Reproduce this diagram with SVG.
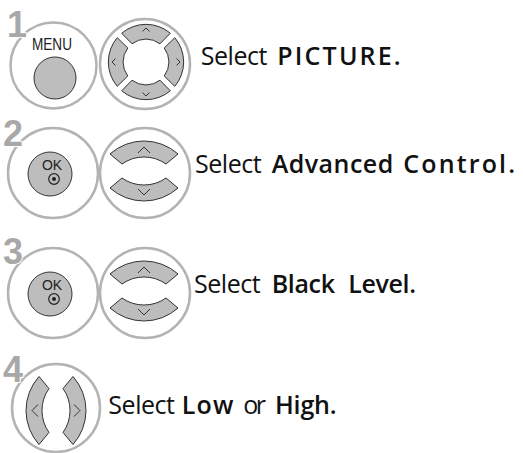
<svg xmlns="http://www.w3.org/2000/svg" width="523" height="453" viewBox="0 0 523 453">
<style>
.ring{fill:#fff;stroke:#b3b3b3;stroke-width:2.5}
.btn{fill:#bdbdbd;stroke:#333;stroke-width:1}
.chev{fill:none;stroke:#333;stroke-width:1}
.num{font-family:"Liberation Sans",Arial,sans-serif;font-weight:bold;font-size:36px;fill:#a8a8a8;stroke:#fff;stroke-width:2;paint-order:stroke}
.lbl{font-family:"Open Sans","DejaVu Sans",sans-serif;font-size:25px;fill:#111}
.b{font-weight:600}
.key{font-family:"Liberation Sans",Arial,sans-serif;fill:#222}
</style>
<defs>
<g id="seg"><path class="btn" d="M-24.3,-28.8 A37.7,37.7 0 0 1 24.3,-28.8 L14,-18.2 A23,23 0 0 0 -14,-18.2 Z"/><polyline class="chev" points="-3.5,-30.5 0,-34 3.5,-30.5"/></g>
<g id="arc"><path class="btn" d="M-34,-17 A51,51 0 0 1 34,-17 L22,-7 A38,38 0 0 0 -22,-7 Z"/><polyline class="chev" points="-6,-18 0,-24 6,-18"/></g>
<g id="okbtn"><circle class="btn" cx="0" cy="0" r="22"/><text class="key" x="2" y="-4" font-size="14" text-anchor="middle">OK</text><circle cx="4" cy="5" r="5.3" fill="none" stroke="#222" stroke-width="1.2"/><circle cx="4" cy="5" r="2" fill="#222"/></g>
</defs>

<g id="step1">
<g id="menu-key"><circle class="ring" cx="53.5" cy="65.5" r="43"/><circle class="btn" cx="55" cy="78" r="21"/><text class="key" x="52" y="50" font-size="16.5" text-anchor="middle" textLength="40" lengthAdjust="spacingAndGlyphs">MENU</text></g>
<text class="num" x="7" y="37">1</text>
<g id="nav4"><circle class="ring" cx="145" cy="64" r="45"/>
<g transform="translate(146,62)"><use href="#seg"/><use href="#seg" transform="rotate(90)"/><use href="#seg" transform="rotate(180)"/><use href="#seg" transform="rotate(-90)"/></g></g>
<g id="label1"><text class="lbl" x="200.7" y="65" textLength="66.7">Select</text><text class="lbl b" x="277.3" y="65" textLength="123.4">PICTURE.</text></g>
</g>

<g id="step2">
<g id="ok-key-2"><circle class="ring" cx="53" cy="173" r="45"/><use href="#okbtn" transform="translate(50,174)"/></g>
<text class="num" x="3" y="146">2</text>
<g id="nav-ud-2"><circle class="ring" cx="145" cy="173" r="45"/>
<g transform="translate(144,171)"><use href="#arc"/><use href="#arc" transform="rotate(180)"/></g></g>
<g id="label2"><text class="lbl" x="195" y="173.3" textLength="66.7">Select</text><text class="lbl b" x="271.7" y="173.3" textLength="121.6">Advanced</text><text class="lbl b" x="403.3" y="173.3" textLength="111.7">Control.</text></g>
</g>

<g id="step3">
<g id="ok-key-3"><circle class="ring" cx="53" cy="293" r="45"/><use href="#okbtn" transform="translate(50,294)"/></g>
<text class="num" x="3" y="264">3</text>
<g id="nav-ud-3"><circle class="ring" cx="145" cy="293" r="45"/>
<g transform="translate(144,291)"><use href="#arc"/><use href="#arc" transform="rotate(180)"/></g></g>
<g id="label3"><text class="lbl" x="194" y="293.3" textLength="66.7">Select</text><text class="lbl b" x="271.7" y="293.3" textLength="63.3">Black</text><text class="lbl b" x="348.3" y="293.3" textLength="67.7">Level.</text></g>
</g>

<g id="step4">
<g id="nav-lr"><circle class="ring" cx="56" cy="408" r="44"/>
<g transform="translate(56,410.5)"><use href="#arc" transform="rotate(-90)"/><use href="#arc" transform="rotate(90)"/></g></g>
<text class="num" x="3" y="382">4</text>
<g id="label4"><text class="lbl" x="108.3" y="414" textLength="66.7">Select</text><text class="lbl b" x="181.7" y="414" textLength="51.6">Low</text><text class="lbl" x="243.3" y="414" textLength="22.7">or</text><text class="lbl b" x="275" y="414" textLength="61.7">High.</text></g>
</g>
</svg>
